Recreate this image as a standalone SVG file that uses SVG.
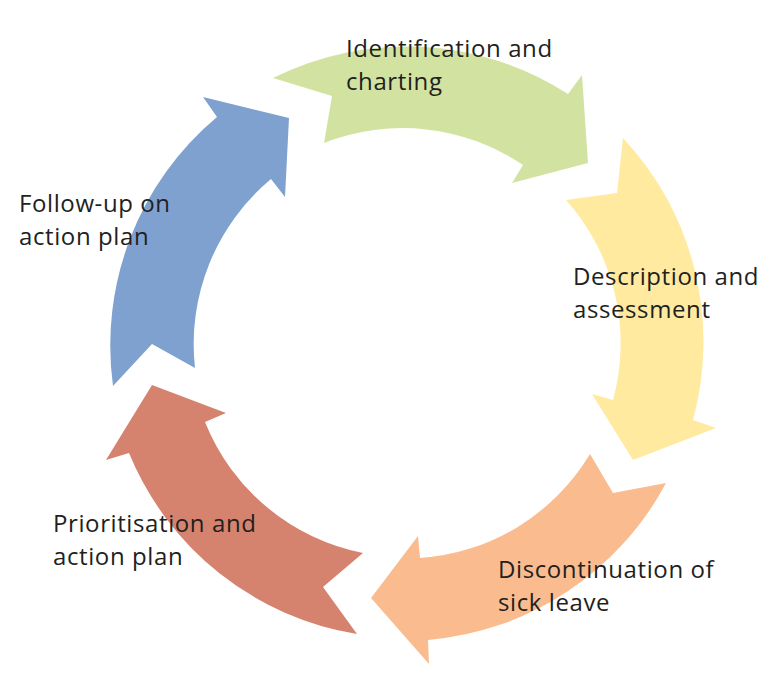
<svg xmlns="http://www.w3.org/2000/svg" width="782" height="685" viewBox="0 0 782 685">
<style>
text{font-family:"Open Sans","Liberation Sans",sans-serif;font-size:24px;letter-spacing:0.6px;fill:#231F20}
</style>
<rect width="782" height="685" fill="#ffffff"/>
<g id="connectors">
<path id="a-green" fill="#D2E3A1" d="M273,78 A298,298 0 0 1 568,94 L582,75 L588,163 L512,183 L523,165 A215,215 0 0 0 324,143 L332,96 Z"/>
<path id="a-yellow" fill="#FFEAA0" d="M623,138 A298,298 0 0 1 693,420 L716,428 L633,460 L592,394 L613,400 A215,215 0 0 0 566,200 L617,193 Z"/>
<path id="a-orange" fill="#FABC8E" d="M666,483 A298,298 0 0 1 428,640 L429,664 L371,598 L418,536 L420,558 A215,215 0 0 0 590,454 L613,493 Z"/>
<path id="a-red" fill="#D5836F" d="M357,634 A298,298 0 0 1 129,453 L106,460 L152,385 L226,413 L205,422 A215,215 0 0 0 363,553 L323,587 Z"/>
<path id="a-blue" fill="#7FA1CF" d="M113,386 A298,298 0 0 1 217,117 L203,97 L289,118 L285,197 L271,179 A215,215 0 0 0 195,368 L152,344 Z"/>
</g>
<g id="n1"><text x="346" y="57">Identification and</text><text x="346" y="90">charting</text></g>
<g id="n2"><text x="573" y="285">Description and</text><text x="573" y="318">assessment</text></g>
<g id="n3"><text x="498" y="578">Discontinuation of</text><text x="498" y="611">sick leave</text></g>
<g id="n4"><text x="53" y="532">Prioritisation and</text><text x="53" y="565">action plan</text></g>
<g id="n5"><text x="19" y="212">Follow-up on</text><text x="19" y="245">action plan</text></g>
</svg>
